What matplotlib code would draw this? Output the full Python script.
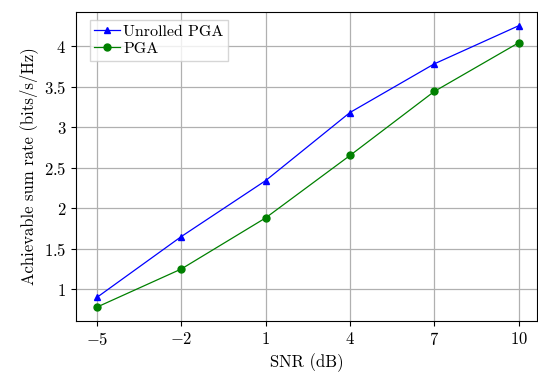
import numpy as np
import matplotlib
matplotlib.use('Agg')
import matplotlib.pyplot as plt
from matplotlib.ticker import FuncFormatter

# Data
snr = [-5, -2, 1, 4, 7, 10]
unrolled_pga = [0.90, 1.65, 2.34, 3.18, 3.78, 4.25]
pga = [0.78, 1.25, 1.88, 2.65, 3.44, 4.04]

plt.rcParams['font.family'] = 'serif'
plt.rcParams['font.serif'] = ['cmr10']
plt.rcParams['mathtext.fontset'] = 'cm'
plt.rcParams['axes.formatter.use_mathtext'] = True
plt.rcParams['axes.unicode_minus'] = True

fig = plt.figure(figsize=(5.38, 3.74), dpi=100)
ax = fig.add_axes([0.141, 0.142, 0.857, 0.826])

ax.plot(snr, unrolled_pga, color='blue', marker='^', markersize=5, linewidth=0.9,
        label='Unrolled PGA')
ax.plot(snr, pga, color='green', marker='o', markersize=5, linewidth=0.9,
        label='PGA')

ax.set_xlim(-5.75, 10.65)
ax.set_ylim(0.61, 4.42)
ax.set_xticks(snr)
ax.set_yticks(np.arange(1, 4.01, 0.5))
fmt = FuncFormatter(lambda v, p: '$%g$' % v)
ax.xaxis.set_major_formatter(fmt)
ax.yaxis.set_major_formatter(fmt)
ax.tick_params(labelsize=12)

ax.grid(True, color='#b0b0b0', linewidth=0.9)
ax.set_axisbelow(True)

ax.set_xlabel('SNR (dB)', fontsize=12)
ax.set_ylabel('Achievable sum rate (bits/s/Hz)', fontsize=12)

ax.legend(loc='upper left', bbox_to_anchor=(0.03, 0.975), borderaxespad=0,
          fontsize=11.5, fancybox=False, edgecolor='#cccccc',
          handlelength=1.6, borderpad=0.3, labelspacing=0.2, handletextpad=0.2)

fig.savefig('out.png', dpi=100)
